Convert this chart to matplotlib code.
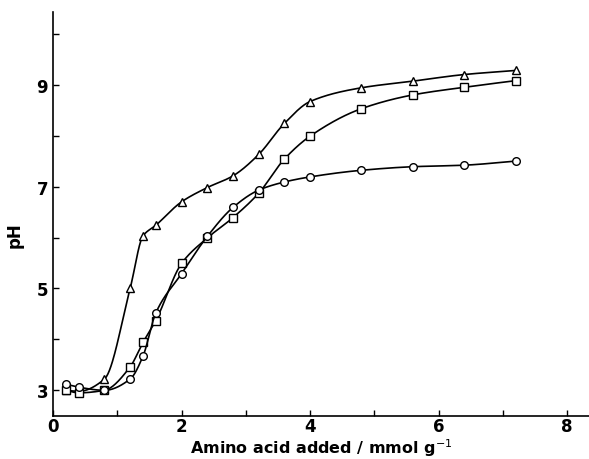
import numpy as np
import matplotlib
matplotlib.use("Agg")
import matplotlib.pyplot as plt
from matplotlib.ticker import MultipleLocator

x_added = [0.2, 0.4, 0.8, 1.2, 1.4, 1.6, 2.0, 2.4, 2.8, 3.2, 3.6, 4.0, 4.8, 5.6, 6.4, 7.2]
ph_triangle = [3.0, 2.98, 3.22, 5.0, 6.03, 6.24, 6.70, 6.98, 7.21, 7.63, 8.24, 8.67, 8.94, 9.07, 9.20, 9.28]
ph_square = [3.0, 2.95, 3.0, 3.46, 3.94, 4.37, 5.49, 5.99, 6.39, 6.87, 7.54, 7.99, 8.53, 8.80, 8.95, 9.08]
ph_circle = [3.12, 3.06, 3.0, 3.22, 3.67, 4.52, 5.29, 6.02, 6.59, 6.93, 7.09, 7.19, 7.32, 7.39, 7.42, 7.50]

x_ticks = [0, 2, 4, 6, 8]
y_ticks = [3, 5, 7, 9]


def pchip(x, y, xs):
    x = np.asarray(x, float); y = np.asarray(y, float)
    h = np.diff(x); d = np.diff(y) / h
    n = len(x); m = np.zeros(n)
    for k in range(1, n - 1):
        if d[k - 1] * d[k] > 0:
            w1 = 2 * h[k] + h[k - 1]; w2 = h[k] + 2 * h[k - 1]
            m[k] = (w1 + w2) / (w1 / d[k - 1] + w2 / d[k])
    m[0] = d[0]; m[-1] = d[-1]
    idx = np.clip(np.searchsorted(x, xs) - 1, 0, n - 2)
    t = (xs - x[idx]) / h[idx]
    h00 = 2 * t**3 - 3 * t**2 + 1; h10 = t**3 - 2 * t**2 + t
    h01 = -2 * t**3 + 3 * t**2; h11 = t**3 - t**2
    return h00 * y[idx] + h10 * h[idx] * m[idx] + h01 * y[idx + 1] + h11 * h[idx] * m[idx + 1]


plt.rcParams['font.family'] = ['DejaVu Sans']
fig = plt.figure(figsize=(5.89, 4.6), dpi=100)
ax = fig.add_axes([0.09, 0.094, 0.91, 0.878])

xs = np.linspace(x_added[0], x_added[-1], 600)
for ys, mk in [(ph_triangle, '^'), (ph_square, 's'), (ph_circle, 'o')]:
    ax.plot(xs, pchip(x_added, ys, xs), color='black', lw=1.2)
    ax.plot(x_added, ys, linestyle='none', marker=mk, ms=5.5, mfc='white',
            mec='black', mew=1.0)

ax.set_xlim(0, 8.34)
ax.set_ylim(2.5, 10.43)
ax.set_xticks(x_ticks)
ax.set_yticks(y_ticks)
ax.xaxis.set_minor_locator(MultipleLocator(1))
ax.yaxis.set_minor_locator(MultipleLocator(1))
ax.tick_params(which='both', direction='in', length=4, width=1.0, labelsize=12)
for lab in ax.get_xticklabels() + ax.get_yticklabels():
    lab.set_fontweight('bold')
ax.tick_params(axis='x', pad=1)
ax.spines['top'].set_visible(False)
ax.spines['right'].set_visible(False)
ax.spines['left'].set_linewidth(1.2)
ax.spines['bottom'].set_linewidth(1.2)
ax.set_xlabel('Amino acid added / mmol g$^{-1}$', fontsize=11.5, fontweight='bold')
ax.xaxis.set_label_coords(0.5, -0.105)
ax.xaxis.label.set_va('bottom')
ax.set_ylabel('pH', fontsize=12, fontweight='bold', labelpad=6)
ax.yaxis.set_label_coords(-0.055, 0.45)

fig.savefig('out.png', dpi=100)
